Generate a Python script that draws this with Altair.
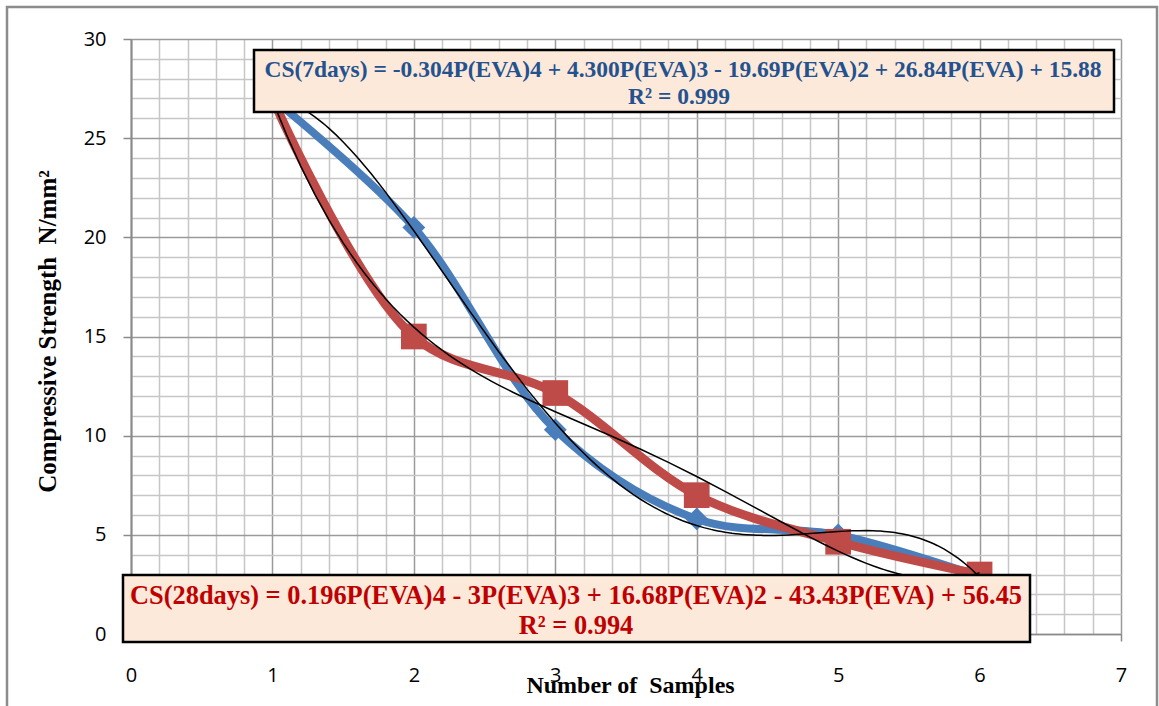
import altair as alt
import pandas as pd

# ---- data ----
samples = [1, 2, 3, 4, 5, 6]
cs_7days = [27.0, 20.5, 10.3, 5.8, 5.0, 2.9]
cs_28days = [27.0, 15.0, 12.15, 7.0, 4.65, 3.0]
series_names = ["7days", "28days"]
series_colors = ["#4A7EBB", "#BE4B48"]
x_ticks = [round(i * 0.2, 1) for i in range(36)]
y_ticks = list(range(31))
eq_7days = ["CS(7days) = -0.304P(EVA)4 + 4.300P(EVA)3 - 19.69P(EVA)2 + 26.84P(EVA) + 15.88",
            "R² = 0.999"]
eq_28days = ["CS(28days) = 0.196P(EVA)4 - 3P(EVA)3 + 16.68P(EVA)2 - 43.43P(EVA) + 56.45",
             "R² = 0.994"]
x_title = "Number of\u00a0 Samples"
y_title = "Compressive Strength\u00a0 N/mm²"

df = pd.DataFrame({
    "x": samples * 2,
    "y": cs_7days + cs_28days,
    "series": [series_names[0]] * len(samples) + [series_names[1]] * len(samples),
})

MINOR = "#C6C6C6"
MAJOR = "#9A9A9A"
AXIS = "#8A8A8A"
SERIF = "Liberation Serif"
SANS = "Open Sans"
BOX_FILL = "#FDE9D9"

x_axis = alt.Axis(
    values=x_ticks, tickCount=60, title=x_title, grid=True,
    gridColor={"condition": {"test": "datum.value % 1 === 0", "value": MAJOR}, "value": MINOR},
    gridWidth=1.5,
    tickColor={"condition": {"test": "datum.value % 1 === 0", "value": AXIS}, "value": "transparent"},
    tickSize=7, tickWidth=1.5,
    labelExpr="datum.value % 1 === 0 ? format(datum.value, 'd') : ''",
    labelOverlap=False, labelFlush=False,
    labelFont=SANS, labelFontSize=20, labelColor="#000000", labelPadding=24,
    domainColor=AXIS, domainWidth=1.5,
    titleFont=SERIF, titleFontSize=24, titleFontWeight="bold", titleColor="#000000",
    titleX=499, titleY=51, titleBaseline="middle", titleAlign="center",
)
y_axis = alt.Axis(
    values=y_ticks, tickCount=60, title=y_title, grid=True,
    gridColor={"condition": {"test": "datum.value % 5 === 0", "value": MAJOR}, "value": MINOR},
    gridWidth=1.5,
    tickColor={"condition": {"test": "datum.value % 5 === 0", "value": AXIS}, "value": "transparent"},
    tickSize=8, tickWidth=1.5,
    labelExpr="datum.value % 5 === 0 ? format(datum.value, 'd') : ''",
    labelOverlap=False, labelFlush=False,
    labelFont=SANS, labelFontSize=20, labelColor="#000000", labelPadding=17,
    domainColor=AXIS, domainWidth=2,
    titleFont=SERIF, titleFontSize=25, titleFontWeight="bold", titleColor="#000000",
    titleAngle=270, titleX=-84, titleY=292, titleBaseline="middle", titleAlign="center",
)

xs = alt.Scale(domain=[0, 7], nice=False, zero=False)
ys = alt.Scale(domain=[0, 30], nice=False)

base = alt.Chart(df)

line_blue = base.transform_filter(alt.datum.series == series_names[0]).mark_line(
    interpolate="catmull-rom", strokeWidth=8, color=series_colors[0]
).encode(x=alt.X("x:Q", scale=xs, axis=x_axis), y=alt.Y("y:Q", scale=ys, axis=y_axis))

line_red = base.transform_filter(alt.datum.series == series_names[1]).mark_line(
    interpolate="catmull-rom", strokeWidth=9, color=series_colors[1]
).encode(x="x:Q", y="y:Q")

pts_blue = base.transform_filter(alt.datum.series == series_names[0]).mark_point(
    shape="diamond", filled=True, size=520, opacity=1, color=series_colors[0]
).encode(x="x:Q", y="y:Q")

pts_red = base.transform_filter(alt.datum.series == series_names[1]).mark_point(
    shape="square", filled=True, size=660, opacity=1, color=series_colors[1]
).encode(x="x:Q", y="y:Q")

trend = base.transform_regression(
    "x", "y", method="poly", order=4, groupby=["series"]
).mark_line(color="black", strokeWidth=1.5).encode(x="x:Q", y="y:Q", detail="series:N")

one = alt.Data(values=[{}])


def box(x, x2, y, y2):
    return alt.Chart(one).mark_rect(fill=BOX_FILL, stroke="black", strokeWidth=2.5).encode(
        x=alt.value(x), x2=alt.value(x2), y=alt.value(y), y2=alt.value(y2))


def label(txt, x, y, size, color):
    return alt.Chart(one).mark_text(
        text=txt, font=SERIF, fontWeight="bold", fontSize=size, color=color,
        align="center", baseline="middle"
    ).encode(x=alt.value(x), y=alt.value(y))


BLUE_TXT = "#24528F"
RED_TXT = "#C00000"

box1 = box(123, 983, 11, 73)
t1a = label(eq_7days[0], 552, 31, 23.5, BLUE_TXT)
t1b = label(eq_7days[1], 548, 58, 23.5, BLUE_TXT)
box2 = box(-8, 899, 536, 603)
t2a = label(eq_28days[0], 445, 557, 26.4, RED_TXT)
t2b = label(eq_28days[1], 445, 587, 26.4, RED_TXT)

frame = alt.Chart(one).mark_rect(fillOpacity=0, stroke="#8C8C8C", strokeWidth=2.5).encode(
    x=alt.value(-124), x2=alt.value(1026), y=alt.value(-32), y2=alt.value(690))

chart = alt.layer(
    line_blue, line_red, pts_blue, pts_red, trend,
    box1, t1a, t1b, box2, t2a, t2b, frame
).properties(
    width=990, height=595,
    padding={"left": 131, "top": 39, "right": 38, "bottom": 72},
    autosize=alt.AutoSizeParams(type="none"),
    background="white",
).configure_view(strokeWidth=0)

chart.save("out.html", embed_options={"renderer": "svg", "actions": False})
